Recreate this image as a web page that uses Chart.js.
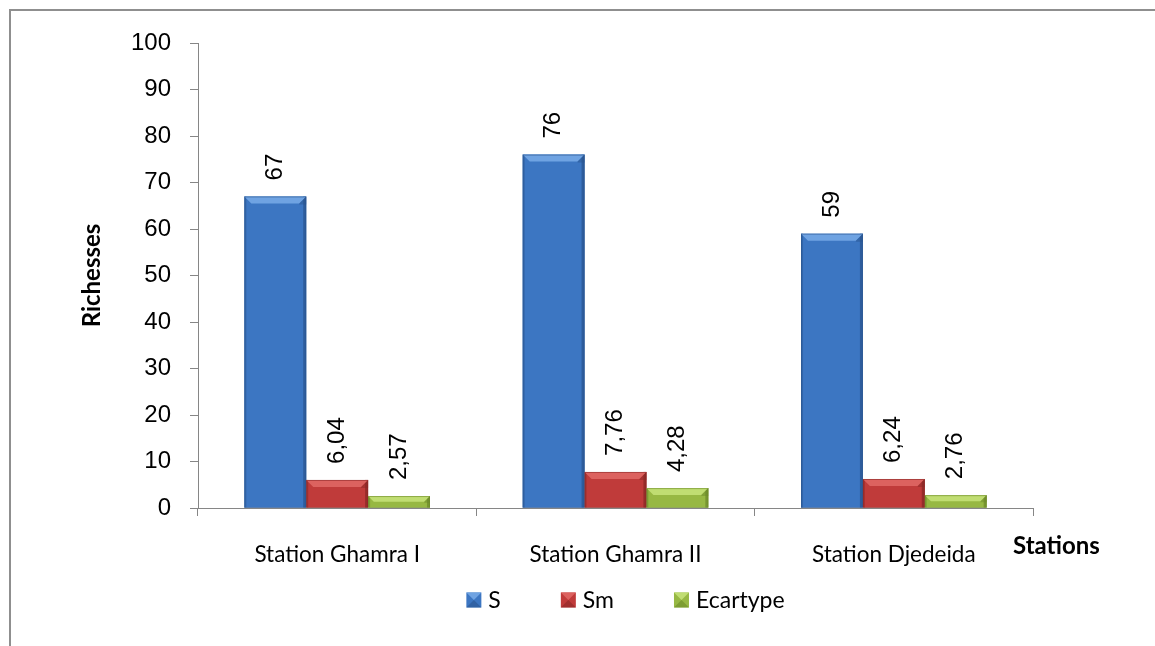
<!DOCTYPE html>
<html>
<head>
<meta charset="utf-8">
<script src="https://cdn.jsdelivr.net/npm/chart.js@4.4.1/dist/chart.umd.min.js"></script>
<style>
html,body{margin:0;padding:0;background:#fff;}
canvas{display:block;}
</style>
</head>
<body>
<canvas id="c" width="1155" height="646"></canvas>
<script>
// ---- data ----
const categories = ['Station Ghamra I', 'Station Ghamra II', 'Station Djedeida'];
const seriesNames = ['S', 'Sm', 'Ecartype'];
const sValues = [67, 76, 59];
const smValues = [6.04, 7.76, 6.24];
const ecartypeValues = [2.57, 4.28, 2.76];
const yMin = 0, yMax = 100, yStep = 10;
const yTitle = 'Richesses';
const xTitle = 'Stations';

// ---- styles ----
const palette = [
  {base: '#3C76C2', light: '#6FA3E2', dark: '#2A5590'},
  {base: '#C03B3A', light: '#DC625F', dark: '#8A2826'},
  {base: '#97B843', light: '#C0DD72', dark: '#6C8A2A'}
];
const axisGray = '#868686';
const tickFont = 'Liberation Sans';
const textFont = 'Lato';

function fmt(v) { return String(v).replace('.', ','); }

const bgPlugin = {
  id: 'bg',
  beforeDraw(chart) {
    const c = chart.ctx;
    c.save();
    c.fillStyle = '#fff';
    c.fillRect(0, 0, chart.width, chart.height);
    c.strokeStyle = '#8f8f8f';
    c.lineWidth = 2;
    c.beginPath();
    c.moveTo(10, chart.height);
    c.lineTo(10, 10);
    c.lineTo(chart.width, 10);
    c.stroke();
    c.restore();
  }
};

const bevelPlugin = {
  id: 'bevel',
  afterDatasetsDraw(chart) {
    const c = chart.ctx;
    chart.data.datasets.forEach((ds, di) => {
      const meta = chart.getDatasetMeta(di);
      const p = palette[di];
      meta.data.forEach(el => {
        const l = el.x - el.width / 2, r = el.x + el.width / 2;
        const t = el.y, b = el.base;
        const h = b - t;
        const bv = Math.min(7, h / 2);
        c.save();
        // left and right edges
        c.fillStyle = p.dark;
        c.globalAlpha = 0.5;
        c.fillRect(l, t, 2, h);
        c.globalAlpha = 0.75;
        c.fillRect(r - 3, t, 3, h);
        c.globalAlpha = 1;
        // top bevel
        c.fillStyle = p.light;
        c.beginPath();
        c.moveTo(l, t);
        c.lineTo(r, t);
        c.lineTo(r - bv, t + bv);
        c.lineTo(l + bv, t + bv);
        c.closePath();
        c.fill();
        // right bevel shade
        c.fillStyle = p.dark;
        c.globalAlpha = 0.5;
        c.beginPath();
        c.moveTo(r, t);
        c.lineTo(r - bv, t + bv);
        c.lineTo(r - bv, t + bv + 1);
        c.lineTo(r, t + bv + 1);
        c.closePath();
        c.fill();
        // thin outline
        c.globalAlpha = 0.6;
        c.strokeStyle = p.dark;
        c.lineWidth = 1;
        c.strokeRect(l + 0.5, t + 0.5, r - l - 1, h - 0.5);
        c.restore();
      });
    });
  }
};

const labelPlugin = {
  id: 'vlabels',
  afterDatasetsDraw(chart) {
    const c = chart.ctx;
    chart.data.datasets.forEach((ds, di) => {
      const meta = chart.getDatasetMeta(di);
      meta.data.forEach((el, i) => {
        c.save();
        c.translate(el.x, el.y - 16);
        c.rotate(-Math.PI / 2);
        c.font = '24px "' + tickFont + '"';
        c.fillStyle = '#000';
        c.textAlign = 'left';
        c.textBaseline = 'middle';
        c.fillText(fmt(ds.data[i]), 0, 0);
        c.restore();
      });
    });
  }
};

const titlesPlugin = {
  id: 'titles',
  afterDraw(chart) {
    const c = chart.ctx;
    const ca = chart.chartArea;
    c.save();
    c.fillStyle = '#000';
    c.font = 'bold 24px "' + textFont + '"';
    c.textAlign = 'center';
    c.textBaseline = 'middle';
    // y title
    c.save();
    c.translate(92, (ca.top + ca.bottom) / 2);
    c.rotate(-Math.PI / 2);
    c.fillText(yTitle, 0, 0);
    c.restore();
    // x title
    c.textAlign = 'left';
    c.fillText(xTitle, ca.right - 20, ca.bottom + 38);
    // legend
    c.font = '23px "' + textFont + '"';
    const box = 15, gapText = 7, gapItem = 60;
    const widths = chart.data.datasets.map(d => box + gapText + c.measureText(d.label).width);
    const total = widths.reduce((a, b) => a + b, 0) + gapItem * (widths.length - 1);
    let x = (ca.left + ca.right) / 2 + 10 - total / 2;
    const y = ca.bottom + 92;
    chart.data.datasets.forEach((d, di) => {
      const p = palette[di];
      c.fillStyle = p.base;
      c.fillRect(x, y - box / 2, box, box);
      c.fillStyle = p.light;
      c.beginPath();
      c.moveTo(x, y - box / 2);
      c.lineTo(x + box, y - box / 2);
      c.lineTo(x + box / 2, y);
      c.closePath();
      c.fill();
      c.fillStyle = p.dark;
      c.globalAlpha = 0.6;
      c.beginPath();
      c.moveTo(x, y + box / 2);
      c.lineTo(x + box, y + box / 2);
      c.lineTo(x + box / 2, y);
      c.closePath();
      c.fill();
      c.globalAlpha = 1;
      c.fillStyle = '#000';
      c.textAlign = 'left';
      c.fillText(d.label, x + box + gapText, y + 1);
      x += widths[di] + gapItem;
    });
    c.restore();
  }
};

const seriesValues = [sValues, smValues, ecartypeValues];

new Chart(document.getElementById('c'), {
  type: 'bar',
  data: {
    labels: categories,
    datasets: seriesNames.map((name, i) => ({
      label: name,
      data: seriesValues[i],
      backgroundColor: palette[i].base,
      borderWidth: 0,
      categoryPercentage: 0.667,
      barPercentage: 1.0
    }))
  },
  options: {
    responsive: false,
    animation: false,
    devicePixelRatio: 1,
    layout: {padding: {left: 0, top: 43, right: 122, bottom: 0}},
    plugins: {legend: {display: false}, tooltip: {enabled: false}},
    scales: {
      x: {
        grid: {display: true, drawOnChartArea: false, drawTicks: true, tickLength: 8, color: axisGray, offset: true},
        border: {color: axisGray, width: 1},
        ticks: {font: {family: textFont, size: 22.5}, color: '#000', padding: 25, maxRotation: 0},
        afterFit(s) { s.height = 138; }
      },
      y: {
        min: yMin, max: yMax,
        grid: {display: true, drawOnChartArea: false, drawTicks: true, tickLength: 8, color: axisGray},
        border: {color: axisGray, width: 1},
        ticks: {stepSize: yStep, font: {family: tickFont, size: 24}, color: '#000', padding: 19},
        afterFit(s) { s.width = 198; }
      }
    }
  },
  plugins: [bgPlugin, bevelPlugin, labelPlugin, titlesPlugin]
});
</script>
</body>
</html>
